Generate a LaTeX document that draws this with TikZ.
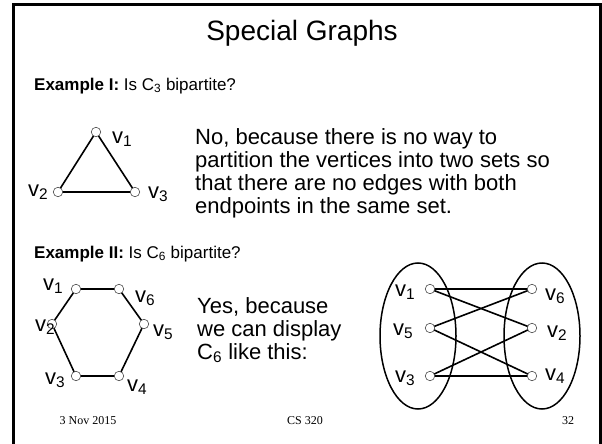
\documentclass[tikz,border=0pt]{standalone}
\usepackage{fontspec}
\setmainfont{Liberation Sans}
\newfontfamily\footserif{Liberation Serif}
\usetikzlibrary{shapes.geometric}
\begin{document}
\begin{tikzpicture}[x=1pt,y=-1pt,
  vert/.style={circle, draw=black!70, fill=white, inner sep=0pt, minimum size=9.5pt, line width=0.6pt},
  edgeline/.style={line width=1.6pt},
  lbl/.style={font=\fontsize{22}{24}\selectfont, inner sep=0pt, anchor=base west},
  body/.style={font=\fontsize{22}{23}\selectfont, inner sep=0pt, anchor=base west},
  exm/.style={font=\fontsize{17}{20}\selectfont, inner sep=0pt, anchor=base west},
  foot/.style={font=\footserif\fontsize{12}{14}\selectfont, inner sep=0pt, anchor=base},
  setell/.style={ellipse, draw, line width=1.5pt, minimum width=76pt, minimum height=146pt, inner sep=0pt}]
\useasboundingbox (0,0) rectangle (602,444);
\fill[white] (0,0) rectangle (602,444);
% frame
\draw[line width=2.5pt] (13.5,450) -- (13.5,4.5) -- (600.5,4.5) -- (600.5,450);
% title
\node[font=\fontsize{28}{30}\selectfont, inner sep=0pt, anchor=base] (title) at (302,41) {Special Graphs};
% Example I
\node[exm] (ex1) at (34,90) {\textbf{Example I:} Is C\textsubscript{3} bipartite?};
% triangle
\coordinate (t1) at (96,132);
\coordinate (t2) at (58,192);
\coordinate (t3) at (135,192);
\draw[edgeline] (t1) -- (t2) -- (t3) -- cycle;
\node[vert] (tv1) at (t1) {};
\node[vert] (tv2) at (t2) {};
\node[vert] (tv3) at (t3) {};
\node[lbl] (tl1) at (112,143) {v\textsubscript{1}};
\node[lbl] (tl2) at (28,196) {v\textsubscript{2}};
\node[lbl] (tl3) at (148,198) {v\textsubscript{3}};
% No text
\node[body] (no1) at (195,144) {No, because there is no way to};
\node[body] (no2) at (195,167) {partition the vertices into two sets so};
\node[body] (no3) at (195,190) {that there are no edges with both};
\node[body] (no4) at (195,213) {endpoints in the same set.};
% Example II
\node[exm] (ex2) at (34,258) {\textbf{Example II:} Is C\textsubscript{6} bipartite?};
% hexagon
\coordinate (h1) at (76,289);
\coordinate (h6) at (119,289);
\coordinate (h2) at (52,324);
\coordinate (h5) at (144,324);
\coordinate (h3) at (76,376);
\coordinate (h4) at (119,376);
\draw[edgeline] (h1) -- (h6) -- (h5) -- (h4) -- (h3) -- (h2) -- cycle;
\foreach \n in {1,...,6} {\node[vert] (hv\n) at (h\n) {};}
\node[lbl] (hl1) at (43,290) {v\textsubscript{1}};
\node[lbl] (hl6) at (135,302) {v\textsubscript{6}};
\node[lbl] (hl2) at (35,331) {v\textsubscript{2}};
\node[lbl] (hl5) at (153,336) {v\textsubscript{5}};
\node[lbl] (hl3) at (45,384) {v\textsubscript{3}};
\node[lbl] (hl4) at (127,391) {v\textsubscript{4}};
% Yes text
\node[body] (yes1) at (197,313) {Yes, because};
\node[body] (yes2) at (197,336) {we can display};
\node[body] (yes3) at (197,359) {C\textsubscript{6} like this:};
% bipartite drawing
\node[setell] (left) at (418,336) {};
\node[setell] (right) at (542,336) {};
\coordinate (b1) at (430,289);
\coordinate (b5) at (430,328);
\coordinate (b3) at (430,376);
\coordinate (b6) at (532,289);
\coordinate (b2) at (532,328);
\coordinate (b4) at (532,376);
\draw[edgeline] (b1) -- (b6);
\draw[edgeline] (b1) -- (b2);
\draw[edgeline] (b5) -- (b6);
\draw[edgeline] (b5) -- (b4);
\draw[edgeline] (b3) -- (b2);
\draw[edgeline, line width=2pt] (b3) -- (b4);
\foreach \n in {1,...,6} {\node[vert] (bv\n) at (b\n) {};}
\node[lbl] (bl1) at (395,296) {v\textsubscript{1}};
\node[lbl] (bl5) at (393,335) {v\textsubscript{5}};
\node[lbl] (bl3) at (395,382) {v\textsubscript{3}};
\node[lbl] (bl6) at (545,300) {v\textsubscript{6}};
\node[lbl] (bl2) at (547,337) {v\textsubscript{2}};
\node[lbl] (bl4) at (545,380) {v\textsubscript{4}};
% footer
\node[foot] (date) at (88,424) {3 Nov 2015};
\node[foot] (course) at (305,424) {CS 320};
\node[foot] (page) at (568,424) {32};
\end{tikzpicture}
\end{document}
